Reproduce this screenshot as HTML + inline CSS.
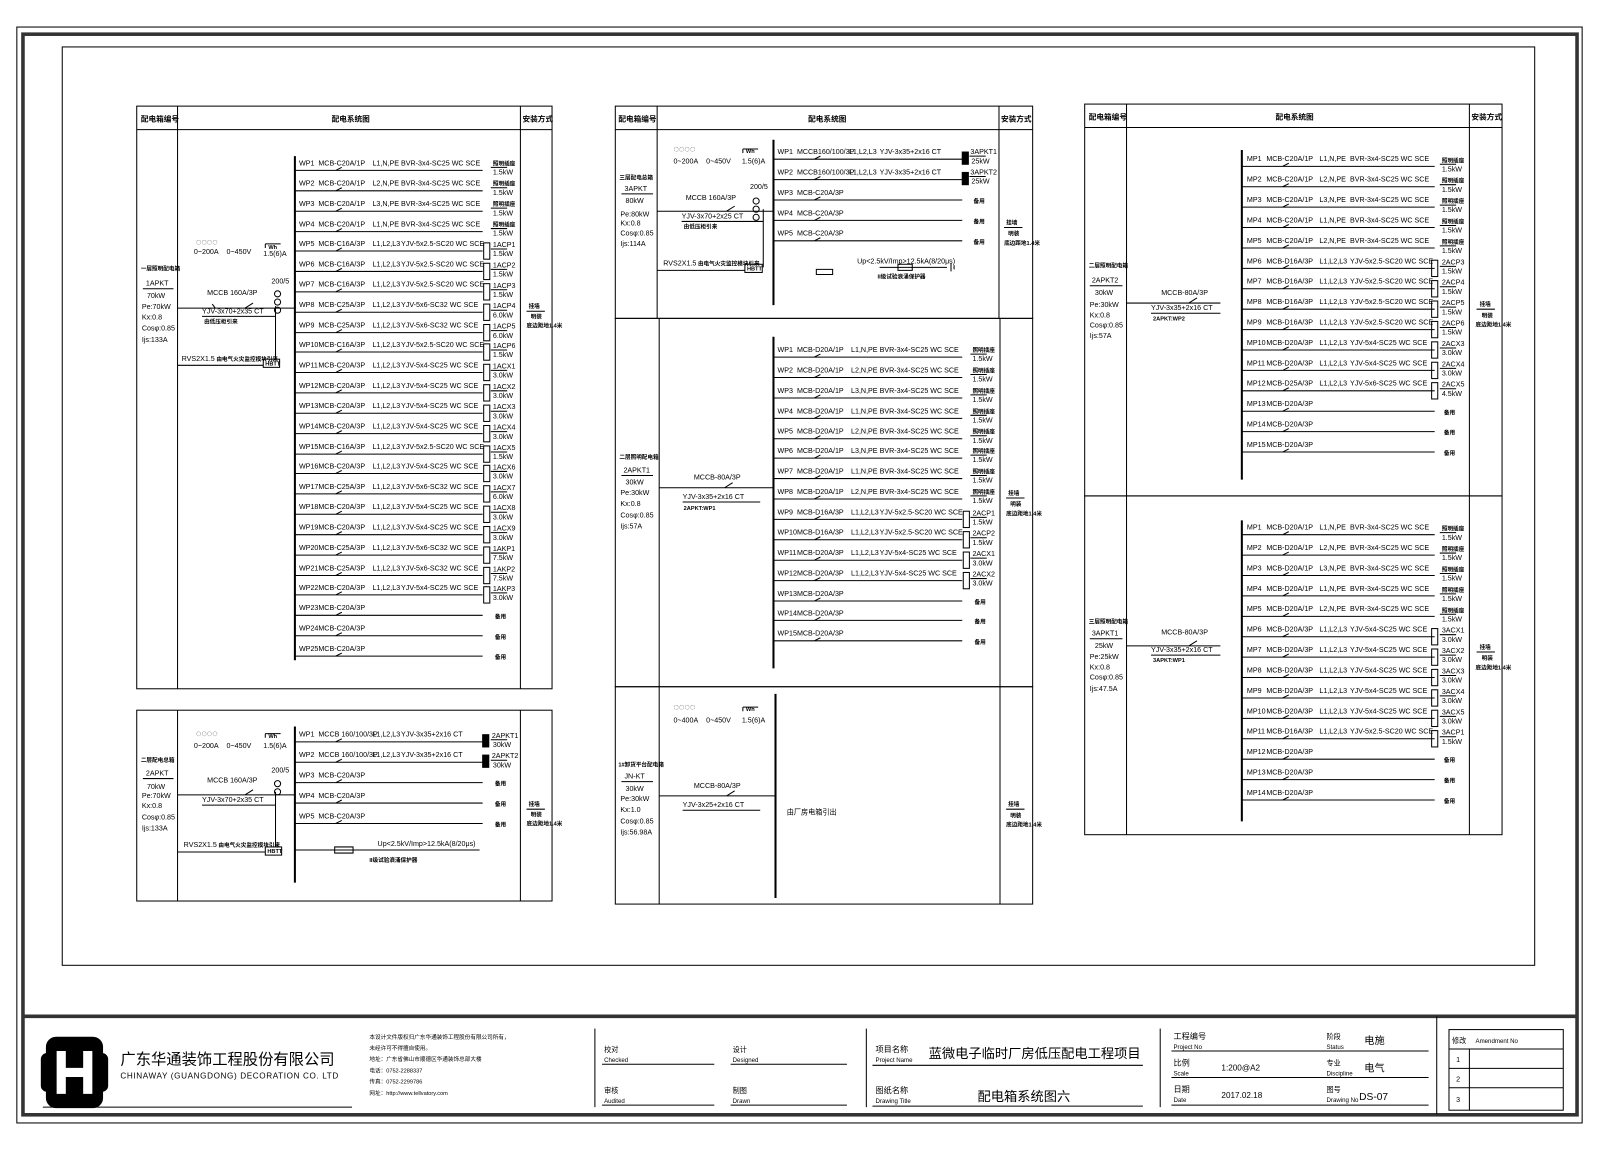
<!DOCTYPE html>
<html><head><meta charset="utf-8"><style>
html,body{margin:0;padding:0;background:#fff;}
svg{display:block}
text{font-family:"Liberation Sans","Noto Sans CJK SC",sans-serif;font-size:7px;fill:#000}
.h{font-size:7.5px;font-weight:bold}
.s{font-size:5.5px;font-weight:bold}
.b{font-size:8px}
path,line,rect,circle{stroke:#000;stroke-width:1;fill:none}
.k{stroke:#333;stroke-width:3.5}
.f{fill:#000}
</style></head><body>
<svg width="1600" height="1165" viewBox="0 0 1568 1141.7" xmlns="http://www.w3.org/2000/svg">
<rect x="0" y="0" width="1568" height="1141.7" style="fill:#fff;stroke:none"/>
<!-- frames -->
<rect x="16.5" y="26.5" width="1534" height="1074"/>
<rect class="k" x="22.5" y="33.5" width="1523" height="1059"/>
<rect x="61" y="46" width="1443" height="900"/>
<line class="k" x1="22.5" y1="996" x2="1545.5" y2="996"/>

<!-- ===== Panel 1 ===== -->
<rect x="134" y="104" width="407" height="571"/>
<line x1="134" y1="127" x2="541" y2="127"/>
<line x1="174" y1="104" x2="174" y2="675"/>
<line x1="510" y1="104" x2="510" y2="675"/>
<text class="h" x="138" y="119">配电箱编号</text>
<text class="h" x="325" y="119">配电系统图</text>
<text class="h" x="512" y="119">安装方式</text>
<line x1="289" y1="153" x2="289" y2="647" style="stroke-width:2"/>
<text class="s" x="138" y="265">一层照明配电箱</text>
<text x="143" y="280">1APKT</text><line x1="140" y1="283" x2="170" y2="283"/>
<text x="144" y="292">70kW</text>
<text x="139" y="303">Pe:70kW</text>
<text x="139" y="313">Kx:0.8</text>
<text x="139" y="324">Cosφ:0.85</text>
<text x="139" y="335">Ijs:133A</text>
<text x="192" y="240" style="font-size:9px">◌◌◌◌</text>
<text x="190" y="249">0~200A</text><text x="222" y="249">0~450V</text>
<path d="M260 239h15M260 239v4"/><text x="263" y="244" class="s">Wh</text>
<text x="258" y="251">1.5(6)A</text>
<text x="266" y="278">200/5</text>
<circle cx="272" cy="288" r="3"/><circle cx="272" cy="296" r="3"/><circle cx="272" cy="304" r="3"/>
<path d="M174 302H289M240 302l8-5M208 298l3 4"/>
<text x="203" y="289">MCCB 160A/3P</text>
<text x="198" y="307">YJV-3x70+2x35 CT</text>
<path d="M198 310H270M270 300V352"/>
<text class="s" x="200" y="317">由低压柜引来</text>
<text x="178" y="354">RVS2X1.5</text><text class="s" x="212" y="354">由电气火灾监控模块引来</text>
<path d="M174 358H258"/><rect x="258" y="352" width="16" height="8"/><text class="s" x="260" y="358">HBTT</text>
<text class="s" x="518" y="302">挂墙</text><line x1="516" y1="305" x2="534" y2="305"/>
<text class="s" x="520" y="312">明装</text><text class="s" x="516" y="321">底边距地1.4米</text>

<g transform="translate(289,162)"><text x="4">WP1</text><text x="23">MCB-C20A/1P</text><text x="76">L1,N,PE</text><text x="104">BVR-3x4-SC25 WC SCE</text><path d="M0 5H184M40 5l6-3"/><text class="s" x="194" y="0">照明插座</text><path d="M192 2h16"/><text x="194" y="9">1.5kW</text></g>
<g transform="translate(289,182)"><text x="4">WP2</text><text x="23">MCB-C20A/1P</text><text x="76">L2,N,PE</text><text x="104">BVR-3x4-SC25 WC SCE</text><path d="M0 5H184M40 5l6-3"/><text class="s" x="194" y="0">照明插座</text><path d="M192 2h16"/><text x="194" y="9">1.5kW</text></g>
<g transform="translate(289,202)"><text x="4">WP3</text><text x="23">MCB-C20A/1P</text><text x="76">L3,N,PE</text><text x="104">BVR-3x4-SC25 WC SCE</text><path d="M0 5H184M40 5l6-3"/><text class="s" x="194" y="0">照明插座</text><path d="M192 2h16"/><text x="194" y="9">1.5kW</text></g>
<g transform="translate(289,222)"><text x="4">WP4</text><text x="23">MCB-C20A/1P</text><text x="76">L1,N,PE</text><text x="104">BVR-3x4-SC25 WC SCE</text><path d="M0 5H184M40 5l6-3"/><text class="s" x="194" y="0">照明插座</text><path d="M192 2h16"/><text x="194" y="9">1.5kW</text></g>
<g transform="translate(289,241)"><text x="4">WP5</text><text x="23">MCB-C16A/3P</text><text x="76">L1,L2,L3</text><text x="104">YJV-5x2.5-SC20 WC SCE</text><path d="M0 5H184M40 5l6-3"/><rect x="185" y="-3" width="6" height="16"/><text x="194" y="1">1ACP1</text><path d="M192 3h16"/><text x="194" y="10">1.5kW</text></g>
<g transform="translate(289,261)"><text x="4">WP6</text><text x="23">MCB-C16A/3P</text><text x="76">L1,L2,L3</text><text x="104">YJV-5x2.5-SC20 WC SCE</text><path d="M0 5H184M40 5l6-3"/><rect x="185" y="-3" width="6" height="16"/><text x="194" y="1">1ACP2</text><path d="M192 3h16"/><text x="194" y="10">1.5kW</text></g>
<g transform="translate(289,281)"><text x="4">WP7</text><text x="23">MCB-C16A/3P</text><text x="76">L1,L2,L3</text><text x="104">YJV-5x2.5-SC20 WC SCE</text><path d="M0 5H184M40 5l6-3"/><rect x="185" y="-3" width="6" height="16"/><text x="194" y="1">1ACP3</text><path d="M192 3h16"/><text x="194" y="10">1.5kW</text></g>
<g transform="translate(289,301)"><text x="4">WP8</text><text x="23">MCB-C25A/3P</text><text x="76">L1,L2,L3</text><text x="104">YJV-5x6-SC32 WC SCE</text><path d="M0 5H184M40 5l6-3"/><rect x="185" y="-3" width="6" height="16"/><text x="194" y="1">1ACP4</text><path d="M192 3h16"/><text x="194" y="10">6.0kW</text></g>
<g transform="translate(289,321)"><text x="4">WP9</text><text x="23">MCB-C25A/3P</text><text x="76">L1,L2,L3</text><text x="104">YJV-5x6-SC32 WC SCE</text><path d="M0 5H184M40 5l6-3"/><rect x="185" y="-3" width="6" height="16"/><text x="194" y="1">1ACP5</text><path d="M192 3h16"/><text x="194" y="10">6.0kW</text></g>
<g transform="translate(289,340)"><text x="4">WP10</text><text x="23">MCB-C16A/3P</text><text x="76">L1,L2,L3</text><text x="104">YJV-5x2.5-SC20 WC SCE</text><path d="M0 5H184M40 5l6-3"/><rect x="185" y="-3" width="6" height="16"/><text x="194" y="1">1ACP6</text><path d="M192 3h16"/><text x="194" y="10">1.5kW</text></g>
<g transform="translate(289,360)"><text x="4">WP11</text><text x="23">MCB-C20A/3P</text><text x="76">L1,L2,L3</text><text x="104">YJV-5x4-SC25 WC SCE</text><path d="M0 5H184M40 5l6-3"/><rect x="185" y="-3" width="6" height="16"/><text x="194" y="1">1ACX1</text><path d="M192 3h16"/><text x="194" y="10">3.0kW</text></g>
<g transform="translate(289,380)"><text x="4">WP12</text><text x="23">MCB-C20A/3P</text><text x="76">L1,L2,L3</text><text x="104">YJV-5x4-SC25 WC SCE</text><path d="M0 5H184M40 5l6-3"/><rect x="185" y="-3" width="6" height="16"/><text x="194" y="1">1ACX2</text><path d="M192 3h16"/><text x="194" y="10">3.0kW</text></g>
<g transform="translate(289,400)"><text x="4">WP13</text><text x="23">MCB-C20A/3P</text><text x="76">L1,L2,L3</text><text x="104">YJV-5x4-SC25 WC SCE</text><path d="M0 5H184M40 5l6-3"/><rect x="185" y="-3" width="6" height="16"/><text x="194" y="1">1ACX3</text><path d="M192 3h16"/><text x="194" y="10">3.0kW</text></g>
<g transform="translate(289,420)"><text x="4">WP14</text><text x="23">MCB-C20A/3P</text><text x="76">L1,L2,L3</text><text x="104">YJV-5x4-SC25 WC SCE</text><path d="M0 5H184M40 5l6-3"/><rect x="185" y="-3" width="6" height="16"/><text x="194" y="1">1ACX4</text><path d="M192 3h16"/><text x="194" y="10">3.0kW</text></g>
<g transform="translate(289,440)"><text x="4">WP15</text><text x="23">MCB-C16A/3P</text><text x="76">L1,L2,L3</text><text x="104">YJV-5x2.5-SC20 WC SCE</text><path d="M0 5H184M40 5l6-3"/><rect x="185" y="-3" width="6" height="16"/><text x="194" y="1">1ACX5</text><path d="M192 3h16"/><text x="194" y="10">1.5kW</text></g>
<g transform="translate(289,459)"><text x="4">WP16</text><text x="23">MCB-C20A/3P</text><text x="76">L1,L2,L3</text><text x="104">YJV-5x4-SC25 WC SCE</text><path d="M0 5H184M40 5l6-3"/><rect x="185" y="-3" width="6" height="16"/><text x="194" y="1">1ACX6</text><path d="M192 3h16"/><text x="194" y="10">3.0kW</text></g>
<g transform="translate(289,479)"><text x="4">WP17</text><text x="23">MCB-C25A/3P</text><text x="76">L1,L2,L3</text><text x="104">YJV-5x6-SC32 WC SCE</text><path d="M0 5H184M40 5l6-3"/><rect x="185" y="-3" width="6" height="16"/><text x="194" y="1">1ACX7</text><path d="M192 3h16"/><text x="194" y="10">6.0kW</text></g>
<g transform="translate(289,499)"><text x="4">WP18</text><text x="23">MCB-C20A/3P</text><text x="76">L1,L2,L3</text><text x="104">YJV-5x4-SC25 WC SCE</text><path d="M0 5H184M40 5l6-3"/><rect x="185" y="-3" width="6" height="16"/><text x="194" y="1">1ACX8</text><path d="M192 3h16"/><text x="194" y="10">3.0kW</text></g>
<g transform="translate(289,519)"><text x="4">WP19</text><text x="23">MCB-C20A/3P</text><text x="76">L1,L2,L3</text><text x="104">YJV-5x4-SC25 WC SCE</text><path d="M0 5H184M40 5l6-3"/><rect x="185" y="-3" width="6" height="16"/><text x="194" y="1">1ACX9</text><path d="M192 3h16"/><text x="194" y="10">3.0kW</text></g>
<g transform="translate(289,539)"><text x="4">WP20</text><text x="23">MCB-C25A/3P</text><text x="76">L1,L2,L3</text><text x="104">YJV-5x6-SC32 WC SCE</text><path d="M0 5H184M40 5l6-3"/><rect x="185" y="-3" width="6" height="16"/><text x="194" y="1">1AKP1</text><path d="M192 3h16"/><text x="194" y="10">7.5kW</text></g>
<g transform="translate(289,559)"><text x="4">WP21</text><text x="23">MCB-C25A/3P</text><text x="76">L1,L2,L3</text><text x="104">YJV-5x6-SC32 WC SCE</text><path d="M0 5H184M40 5l6-3"/><rect x="185" y="-3" width="6" height="16"/><text x="194" y="1">1AKP2</text><path d="M192 3h16"/><text x="194" y="10">7.5kW</text></g>
<g transform="translate(289,578)"><text x="4">WP22</text><text x="23">MCB-C20A/3P</text><text x="76">L1,L2,L3</text><text x="104">YJV-5x4-SC25 WC SCE</text><path d="M0 5H184M40 5l6-3"/><rect x="185" y="-3" width="6" height="16"/><text x="194" y="1">1AKP3</text><path d="M192 3h16"/><text x="194" y="10">3.0kW</text></g>
<g transform="translate(289,598)"><text x="4">WP23</text><text x="23">MCB-C20A/3P</text><path d="M0 5H184M40 5l6-3"/><text class="s" x="196" y="8">备用</text></g>
<g transform="translate(289,618)"><text x="4">WP24</text><text x="23">MCB-C20A/3P</text><path d="M0 5H184M40 5l6-3"/><text class="s" x="196" y="8">备用</text></g>
<g transform="translate(289,638)"><text x="4">WP25</text><text x="23">MCB-C20A/3P</text><path d="M0 5H184M40 5l6-3"/><text class="s" x="196" y="8">备用</text></g>

<!-- ===== Panel 2 ===== -->
<rect x="134" y="696" width="407" height="187"/>
<line x1="174" y1="696" x2="174" y2="883"/>
<line x1="510" y1="696" x2="510" y2="883"/>
<line x1="289" y1="712" x2="289" y2="865" style="stroke-width:2"/>
<text class="s" x="138" y="747">二层配电总箱</text>
<text x="143" y="760">2APKT</text><line x1="140" y1="763" x2="170" y2="763"/>
<text x="144" y="773">70kW</text>
<text x="139" y="782">Pe:70kW</text>
<text x="139" y="792">Kx:0.8</text>
<text x="139" y="803">Cosφ:0.85</text>
<text x="139" y="814">Ijs:133A</text>
<text x="192" y="722" style="font-size:9px">◌◌◌◌</text>
<text x="190" y="733">0~200A</text><text x="222" y="733">0~450V</text>
<path d="M260 719h15M260 719v4"/><text x="263" y="723" class="s">Wh</text>
<text x="258" y="733">1.5(6)A</text>
<text x="266" y="757">200/5</text>
<circle cx="272" cy="768" r="3"/><circle cx="272" cy="776" r="3"/>
<path d="M174 779H289M240 779l8-5"/>
<text x="203" y="767">MCCB 160A/3P</text>
<text x="198" y="786">YJV-3x70+2x35 CT</text>
<path d="M198 789H270M270 776V830"/>
<text x="180" y="830">RVS2X1.5</text><text class="s" x="214" y="830">由电气火灾监控模块引来</text>
<path d="M174 835H260"/><rect x="260" y="830" width="16" height="8"/><text class="s" x="262" y="836">HBTT</text>
<text class="s" x="518" y="790">挂墙</text><line x1="516" y1="793" x2="534" y2="793"/>
<text class="s" x="520" y="800">明装</text><text class="s" x="516" y="809">底边距地1.4米</text>
<g transform="translate(289,722)"><text x="4">WP1</text><text x="23">MCCB 160/100/3P</text><text x="76">L1,L2,L3</text><text x="104">YJV-3x35+2x16 CT</text><path d="M0 5H184M40 5l6-3"/><rect class="f" x="184" y="-2" width="6" height="12"/><text x="193" y="1">2APKT1</text><path d="M192 3h16"/><text x="194" y="10">30kW</text></g>
<g transform="translate(289,742)"><text x="4">WP2</text><text x="23">MCCB 160/100/3P</text><text x="76">L1,L2,L3</text><text x="104">YJV-3x35+2x16 CT</text><path d="M0 5H184M40 5l6-3"/><rect class="f" x="184" y="-2" width="6" height="12"/><text x="193" y="1">2APKT2</text><path d="M192 3h16"/><text x="194" y="10">30kW</text></g>
<g transform="translate(289,762)"><text x="4">WP3</text><text x="23">MCB-C20A/3P</text><path d="M0 5H184M40 5l6-3"/><text class="s" x="196" y="8">备用</text></g>
<g transform="translate(289,782)"><text x="4">WP4</text><text x="23">MCB-C20A/3P</text><path d="M0 5H184M40 5l6-3"/><text class="s" x="196" y="8">备用</text></g>
<g transform="translate(289,802)"><text x="4">WP5</text><text x="23">MCB-C20A/3P</text><path d="M0 5H184M40 5l6-3"/><text class="s" x="196" y="8">备用</text></g>
<path d="M289 833H470M328 830h18v6h-18z"/>
<text x="370" y="829">Up&lt;2.5kV/Imp&gt;12.5kA(8/20μs)</text>
<text class="s" x="362" y="845">II级试验浪涌保护器</text>

<!-- ===== Panel 3 ===== -->
<rect x="603" y="104" width="409" height="208"/>
<line x1="603" y1="127" x2="1012" y2="127"/>
<line x1="644" y1="104" x2="644" y2="312"/>
<line x1="979" y1="104" x2="979" y2="312"/>
<text class="h" x="606" y="119">配电箱编号</text>
<text class="h" x="792" y="119">配电系统图</text>
<text class="h" x="981" y="119">安装方式</text>
<line x1="758" y1="137" x2="758" y2="299" style="stroke-width:2"/>
<text class="s" x="607" y="176">三层配电总箱</text>
<text x="612" y="187">3APKT</text><line x1="609" y1="190" x2="640" y2="190"/>
<text x="613" y="199">80kW</text>
<text x="608" y="212">Pe:80kW</text>
<text x="608" y="221">Kx:0.8</text>
<text x="608" y="231">Cosφ:0.85</text>
<text x="608" y="241">Ijs:114A</text>
<text x="660" y="149" style="font-size:9px">◌◌◌◌</text>
<text x="660" y="160">0~200A</text><text x="692" y="160">0~450V</text>
<path d="M728 146h15M728 146v4"/><text x="731" y="150" class="s">Wh</text>
<text x="727" y="160">1.5(6)A</text>
<text x="735" y="185">200/5</text>
<circle cx="741" cy="197" r="3"/><circle cx="741" cy="205" r="3"/><circle cx="741" cy="213" r="3"/>
<path d="M644 207H758M712 207l8-5"/>
<text x="672" y="196">MCCB 160A/3P</text>
<text x="668" y="214">YJV-3x70+2x25 CT</text>
<path d="M668 217H748M748 205V262"/>
<text class="s" x="670" y="224">由低压柜引来</text>
<text x="650" y="260">RVS2X1.5</text><text class="s" x="684" y="260">由电气火灾监控模块引来</text>
<path d="M644 265H730"/><rect x="730" y="259" width="17" height="8"/><text class="s" x="732" y="265">HBTT</text>
<text class="s" x="986" y="220">挂墙</text><line x1="984" y1="223" x2="1002" y2="223"/>
<text class="s" x="988" y="231">明装</text><text class="s" x="984" y="240">底边距地1.4米</text>
<g transform="translate(758,151)"><text x="4">WP1</text><text x="23">MCCB160/100/3P</text><text x="74">L1,L2,L3</text><text x="104">YJV-3x35+2x16 CT</text><path d="M0 5H185M40 5l6-3"/><rect class="f" x="185" y="-2" width="6" height="12"/><text x="193" y="0">3APKT1</text><path d="M192 2h16"/><text x="194" y="9">25kW</text></g>
<g transform="translate(758,171)"><text x="4">WP2</text><text x="23">MCCB160/100/3P</text><text x="74">L1,L2,L3</text><text x="104">YJV-3x35+2x16 CT</text><path d="M0 5H185M40 5l6-3"/><rect class="f" x="185" y="-2" width="6" height="12"/><text x="193" y="0">3APKT2</text><path d="M192 2h16"/><text x="194" y="9">25kW</text></g>
<g transform="translate(758,191)"><text x="4">WP3</text><text x="23">MCB-C20A/3P</text><path d="M0 5H185M40 5l6-3"/><text class="s" x="196" y="8">备用</text></g>
<g transform="translate(758,211)"><text x="4">WP4</text><text x="23">MCB-C20A/3P</text><path d="M0 5H185M40 5l6-3"/><text class="s" x="196" y="8">备用</text></g>
<g transform="translate(758,231)"><text x="4">WP5</text><text x="23">MCB-C20A/3P</text><path d="M0 5H185M40 5l6-3"/><text class="s" x="196" y="8">备用</text></g>
<path d="M800 264h16v5h-16z"/>
<text x="840" y="258">Up&lt;2.5kV/Imp&gt;12.5kA(8/20μs)</text>
<path d="M862 262H928M880 259h14v6h-14zM932 258v8M935 260v4"/>
<text class="s" x="860" y="273">II级试验浪涌保护器</text>

<!-- ===== Panel 4 ===== -->
<rect x="603" y="312" width="409" height="361"/>
<line x1="646" y1="312" x2="646" y2="673"/>
<line x1="980" y1="312" x2="980" y2="673"/>
<line x1="758" y1="330" x2="758" y2="655" style="stroke-width:2"/>
<text class="s" x="607" y="450">二层照明配电箱</text>
<text x="611" y="463">2APKT1</text><line x1="609" y1="466" x2="640" y2="466"/>
<text x="613" y="475">30kW</text>
<text x="608" y="485">Pe:30kW</text>
<text x="608" y="496">Kx:0.8</text>
<text x="608" y="507">Cosφ:0.85</text>
<text x="608" y="518">Ijs:57A</text>
<path d="M646 478H758M710 478l8-5"/>
<text x="680" y="470">MCCB-80A/3P</text>
<text x="669" y="489">YJV-3x35+2x16 CT</text>
<path d="M669 492H745"/>
<text class="s" x="670" y="500">2APKT:WP1</text>
<text class="s" x="988" y="485">挂墙</text><line x1="986" y1="488" x2="1004" y2="488"/>
<text class="s" x="990" y="496">明装</text><text class="s" x="986" y="505">底边距地1.4米</text>
<g transform="translate(758,345)"><text x="4">WP1</text><text x="23">MCB-D20A/1P</text><text x="76">L1,N,PE</text><text x="104">BVR-3x4-SC25 WC SCE</text><path d="M0 5H185M40 5l6-3"/><text class="s" x="195" y="0">照明插座</text><path d="M193 2h16"/><text x="195" y="9">1.5kW</text></g>
<g transform="translate(758,365)"><text x="4">WP2</text><text x="23">MCB-D20A/1P</text><text x="76">L2,N,PE</text><text x="104">BVR-3x4-SC25 WC SCE</text><path d="M0 5H185M40 5l6-3"/><text class="s" x="195" y="0">照明插座</text><path d="M193 2h16"/><text x="195" y="9">1.5kW</text></g>
<g transform="translate(758,385)"><text x="4">WP3</text><text x="23">MCB-D20A/1P</text><text x="76">L3,N,PE</text><text x="104">BVR-3x4-SC25 WC SCE</text><path d="M0 5H185M40 5l6-3"/><text class="s" x="195" y="0">照明插座</text><path d="M193 2h16"/><text x="195" y="9">1.5kW</text></g>
<g transform="translate(758,405)"><text x="4">WP4</text><text x="23">MCB-D20A/1P</text><text x="76">L1,N,PE</text><text x="104">BVR-3x4-SC25 WC SCE</text><path d="M0 5H185M40 5l6-3"/><text class="s" x="195" y="0">照明插座</text><path d="M193 2h16"/><text x="195" y="9">1.5kW</text></g>
<g transform="translate(758,425)"><text x="4">WP5</text><text x="23">MCB-D20A/1P</text><text x="76">L2,N,PE</text><text x="104">BVR-3x4-SC25 WC SCE</text><path d="M0 5H185M40 5l6-3"/><text class="s" x="195" y="0">照明插座</text><path d="M193 2h16"/><text x="195" y="9">1.5kW</text></g>
<g transform="translate(758,444)"><text x="4">WP6</text><text x="23">MCB-D20A/1P</text><text x="76">L3,N,PE</text><text x="104">BVR-3x4-SC25 WC SCE</text><path d="M0 5H185M40 5l6-3"/><text class="s" x="195" y="0">照明插座</text><path d="M193 2h16"/><text x="195" y="9">1.5kW</text></g>
<g transform="translate(758,464)"><text x="4">WP7</text><text x="23">MCB-D20A/1P</text><text x="76">L1,N,PE</text><text x="104">BVR-3x4-SC25 WC SCE</text><path d="M0 5H185M40 5l6-3"/><text class="s" x="195" y="0">照明插座</text><path d="M193 2h16"/><text x="195" y="9">1.5kW</text></g>
<g transform="translate(758,484)"><text x="4">WP8</text><text x="23">MCB-D20A/1P</text><text x="76">L2,N,PE</text><text x="104">BVR-3x4-SC25 WC SCE</text><path d="M0 5H185M40 5l6-3"/><text class="s" x="195" y="0">照明插座</text><path d="M193 2h16"/><text x="195" y="9">1.5kW</text></g>
<g transform="translate(758,504)"><text x="4">WP9</text><text x="23">MCB-D16A/3P</text><text x="76">L1,L2,L3</text><text x="104">YJV-5x2.5-SC20 WC SCE</text><path d="M0 5H185M40 5l6-3"/><rect x="186" y="-3" width="6" height="16"/><text x="195" y="1">2ACP1</text><path d="M193 3h16"/><text x="195" y="10">1.5kW</text></g>
<g transform="translate(758,524)"><text x="4">WP10</text><text x="23">MCB-D16A/3P</text><text x="76">L1,L2,L3</text><text x="104">YJV-5x2.5-SC20 WC SCE</text><path d="M0 5H185M40 5l6-3"/><rect x="186" y="-3" width="6" height="16"/><text x="195" y="1">2ACP2</text><path d="M193 3h16"/><text x="195" y="10">1.5kW</text></g>
<g transform="translate(758,544)"><text x="4">WP11</text><text x="23">MCB-D20A/3P</text><text x="76">L1,L2,L3</text><text x="104">YJV-5x4-SC25 WC SCE</text><path d="M0 5H185M40 5l6-3"/><rect x="186" y="-3" width="6" height="16"/><text x="195" y="1">2ACX1</text><path d="M193 3h16"/><text x="195" y="10">3.0kW</text></g>
<g transform="translate(758,564)"><text x="4">WP12</text><text x="23">MCB-D20A/3P</text><text x="76">L1,L2,L3</text><text x="104">YJV-5x4-SC25 WC SCE</text><path d="M0 5H185M40 5l6-3"/><rect x="186" y="-3" width="6" height="16"/><text x="195" y="1">2ACX2</text><path d="M193 3h16"/><text x="195" y="10">3.0kW</text></g>
<g transform="translate(758,584)"><text x="4">WP13</text><text x="23">MCB-D20A/3P</text><path d="M0 5H185M40 5l6-3"/><text class="s" x="197" y="8">备用</text></g>
<g transform="translate(758,603)"><text x="4">WP14</text><text x="23">MCB-D20A/3P</text><path d="M0 5H185M40 5l6-3"/><text class="s" x="197" y="8">备用</text></g>
<g transform="translate(758,623)"><text x="4">WP15</text><text x="23">MCB-D20A/3P</text><path d="M0 5H185M40 5l6-3"/><text class="s" x="197" y="8">备用</text></g>

<!-- ===== Panel 5 ===== -->
<rect x="603" y="673" width="409" height="213"/>
<line x1="646" y1="673" x2="646" y2="886"/>
<line x1="980" y1="673" x2="980" y2="886"/>
<line x1="760" y1="680" x2="760" y2="880" style="stroke-width:2"/>
<text class="s" x="606" y="751">1#卸货平台配电箱</text>
<text x="612" y="763">JN-KT</text><line x1="609" y1="766" x2="640" y2="766"/>
<text x="613" y="775">30kW</text>
<text x="608" y="785">Pe:30kW</text>
<text x="608" y="796">Kx:1.0</text>
<text x="608" y="807">Cosφ:0.85</text>
<text x="608" y="818">Ijs:56.98A</text>
<text x="660" y="696" style="font-size:9px">◌◌◌◌</text>
<text x="660" y="708">0~400A</text><text x="692" y="708">0~450V</text>
<path d="M728 693h15M728 693v4"/><text x="731" y="697" class="s">Wh</text>
<text x="727" y="708">1.5(6)A</text>
<path d="M646 780H760M712 780l8-5"/>
<text x="680" y="772">MCCB-80A/3P</text>
<text x="669" y="791">YJV-3x25+2x16 CT</text>
<path d="M669 794H745"/>
<text x="771" y="798">由厂房电箱引出</text>
<text class="s" x="988" y="790">挂墙</text><line x1="986" y1="793" x2="1004" y2="793"/>
<text class="s" x="990" y="801">明装</text><text class="s" x="986" y="810">底边距地1.4米</text>

<!-- ===== Panel 6 ===== -->
<rect x="1063" y="102" width="409" height="384"/>
<line x1="1063" y1="125" x2="1472" y2="125"/>
<line x1="1104" y1="102" x2="1104" y2="486"/>
<line x1="1440" y1="102" x2="1440" y2="486"/>
<text class="h" x="1067" y="117">配电箱编号</text>
<text class="h" x="1250" y="117">配电系统图</text>
<text class="h" x="1442" y="117">安装方式</text>
<line x1="1217" y1="147" x2="1217" y2="470" style="stroke-width:2"/>
<text class="s" x="1067" y="262">二层照明配电箱</text>
<text x="1070" y="277">2APKT2</text><line x1="1068" y1="280" x2="1100" y2="280"/>
<text x="1073" y="289">30kW</text>
<text x="1068" y="301">Pe:30kW</text>
<text x="1068" y="311">Kx:0.8</text>
<text x="1068" y="321">Cosφ:0.85</text>
<text x="1068" y="331">Ijs:57A</text>
<path d="M1104 297H1196M1165 297l8-5"/>
<text x="1138" y="289">MCCB-80A/3P</text>
<text x="1128" y="304">YJV-3x35+2x16 CT</text>
<path d="M1128 307H1196"/>
<text class="s" x="1130" y="314">2APKT:WP2</text>
<text class="s" x="1450" y="300">挂墙</text><line x1="1447" y1="303" x2="1465" y2="303"/>
<text class="s" x="1452" y="311">明装</text><text class="s" x="1446" y="320">底边距地1.4米</text>
<g transform="translate(1217,158)"><text x="5">MP1</text><text x="24">MCB-C20A/1P</text><text x="76">L1,N,PE</text><text x="106">BVR-3x4-SC25 WC SCE</text><path d="M0 5H189M40 5l6-3"/><text class="s" x="196" y="1">照明插座</text><path d="M194 3h16"/><text x="196" y="10">1.5kW</text></g>
<g transform="translate(1217,178)"><text x="5">MP2</text><text x="24">MCB-C20A/1P</text><text x="76">L2,N,PE</text><text x="106">BVR-3x4-SC25 WC SCE</text><path d="M0 5H189M40 5l6-3"/><text class="s" x="196" y="1">照明插座</text><path d="M194 3h16"/><text x="196" y="10">1.5kW</text></g>
<g transform="translate(1217,198)"><text x="5">MP3</text><text x="24">MCB-C20A/1P</text><text x="76">L3,N,PE</text><text x="106">BVR-3x4-SC25 WC SCE</text><path d="M0 5H189M40 5l6-3"/><text class="s" x="196" y="1">照明插座</text><path d="M194 3h16"/><text x="196" y="10">1.5kW</text></g>
<g transform="translate(1217,218)"><text x="5">MP4</text><text x="24">MCB-C20A/1P</text><text x="76">L1,N,PE</text><text x="106">BVR-3x4-SC25 WC SCE</text><path d="M0 5H189M40 5l6-3"/><text class="s" x="196" y="1">照明插座</text><path d="M194 3h16"/><text x="196" y="10">1.5kW</text></g>
<g transform="translate(1217,238)"><text x="5">MP5</text><text x="24">MCB-C20A/1P</text><text x="76">L2,N,PE</text><text x="106">BVR-3x4-SC25 WC SCE</text><path d="M0 5H189M40 5l6-3"/><text class="s" x="196" y="1">照明插座</text><path d="M194 3h16"/><text x="196" y="10">1.5kW</text></g>
<g transform="translate(1217,258)"><text x="5">MP6</text><text x="24">MCB-D16A/3P</text><text x="76">L1,L2,L3</text><text x="106">YJV-5x2.5-SC20 WC SCE</text><path d="M0 5H189M40 5l6-3"/><rect x="186" y="-3" width="6" height="16"/><text x="196" y="1">2ACP3</text><path d="M194 3h16"/><text x="196" y="10">1.5kW</text></g>
<g transform="translate(1217,278)"><text x="5">MP7</text><text x="24">MCB-D16A/3P</text><text x="76">L1,L2,L3</text><text x="106">YJV-5x2.5-SC20 WC SCE</text><path d="M0 5H189M40 5l6-3"/><rect x="186" y="-3" width="6" height="16"/><text x="196" y="1">2ACP4</text><path d="M194 3h16"/><text x="196" y="10">1.5kW</text></g>
<g transform="translate(1217,298)"><text x="5">MP8</text><text x="24">MCB-D16A/3P</text><text x="76">L1,L2,L3</text><text x="106">YJV-5x2.5-SC20 WC SCE</text><path d="M0 5H189M40 5l6-3"/><rect x="186" y="-3" width="6" height="16"/><text x="196" y="1">2ACP5</text><path d="M194 3h16"/><text x="196" y="10">1.5kW</text></g>
<g transform="translate(1217,318)"><text x="5">MP9</text><text x="24">MCB-D16A/3P</text><text x="76">L1,L2,L3</text><text x="106">YJV-5x2.5-SC20 WC SCE</text><path d="M0 5H189M40 5l6-3"/><rect x="186" y="-3" width="6" height="16"/><text x="196" y="1">2ACP6</text><path d="M194 3h16"/><text x="196" y="10">1.5kW</text></g>
<g transform="translate(1217,338)"><text x="5">MP10</text><text x="24">MCB-D20A/3P</text><text x="76">L1,L2,L3</text><text x="106">YJV-5x4-SC25 WC SCE</text><path d="M0 5H189M40 5l6-3"/><rect x="186" y="-3" width="6" height="16"/><text x="196" y="1">2ACX3</text><path d="M194 3h16"/><text x="196" y="10">3.0kW</text></g>
<g transform="translate(1217,358)"><text x="5">MP11</text><text x="24">MCB-D20A/3P</text><text x="76">L1,L2,L3</text><text x="106">YJV-5x4-SC25 WC SCE</text><path d="M0 5H189M40 5l6-3"/><rect x="186" y="-3" width="6" height="16"/><text x="196" y="1">2ACX4</text><path d="M194 3h16"/><text x="196" y="10">3.0kW</text></g>
<g transform="translate(1217,378)"><text x="5">MP12</text><text x="24">MCB-D25A/3P</text><text x="76">L1,L2,L3</text><text x="106">YJV-5x6-SC25 WC SCE</text><path d="M0 5H189M40 5l6-3"/><rect x="186" y="-3" width="6" height="16"/><text x="196" y="1">2ACX5</text><path d="M194 3h16"/><text x="196" y="10">4.5kW</text></g>
<g transform="translate(1217,398)"><text x="5">MP13</text><text x="24">MCB-D20A/3P</text><path d="M0 5H189M40 5l6-3"/><text class="s" x="198" y="8">备用</text></g>
<g transform="translate(1217,418)"><text x="5">MP14</text><text x="24">MCB-D20A/3P</text><path d="M0 5H189M40 5l6-3"/><text class="s" x="198" y="8">备用</text></g>
<g transform="translate(1217,438)"><text x="5">MP15</text><text x="24">MCB-D20A/3P</text><path d="M0 5H189M40 5l6-3"/><text class="s" x="198" y="8">备用</text></g>

<!-- ===== Panel 7 ===== -->
<rect x="1063" y="486" width="409" height="332"/>
<line x1="1104" y1="486" x2="1104" y2="818"/>
<line x1="1440" y1="486" x2="1440" y2="818"/>
<line x1="1217" y1="510" x2="1217" y2="805" style="stroke-width:2"/>
<text class="s" x="1067" y="611">三层照明配电箱</text>
<text x="1070" y="623">3APKT1</text><line x1="1068" y1="626" x2="1100" y2="626"/>
<text x="1073" y="635">25kW</text>
<text x="1068" y="646">Pe:25kW</text>
<text x="1068" y="656">Kx:0.8</text>
<text x="1068" y="666">Cosφ:0.85</text>
<text x="1068" y="677">Ijs:47.5A</text>
<path d="M1104 633H1196M1165 633l8-5"/>
<text x="1138" y="622">MCCB-80A/3P</text>
<text x="1128" y="639">YJV-3x35+2x16 CT</text>
<path d="M1128 642H1196"/>
<text class="s" x="1130" y="649">3APKT:WP1</text>
<text class="s" x="1450" y="636">挂墙</text><line x1="1447" y1="639" x2="1465" y2="639"/>
<text class="s" x="1452" y="647">明装</text><text class="s" x="1446" y="656">底边距地1.4米</text>
<g transform="translate(1217,519)"><text x="5">MP1</text><text x="24">MCB-D20A/1P</text><text x="76">L1,N,PE</text><text x="106">BVR-3x4-SC25 WC SCE</text><path d="M0 5H189M40 5l6-3"/><text class="s" x="196" y="1">照明插座</text><path d="M194 3h16"/><text x="196" y="10">1.5kW</text></g>
<g transform="translate(1217,539)"><text x="5">MP2</text><text x="24">MCB-D20A/1P</text><text x="76">L2,N,PE</text><text x="106">BVR-3x4-SC25 WC SCE</text><path d="M0 5H189M40 5l6-3"/><text class="s" x="196" y="1">照明插座</text><path d="M194 3h16"/><text x="196" y="10">1.5kW</text></g>
<g transform="translate(1217,559)"><text x="5">MP3</text><text x="24">MCB-D20A/1P</text><text x="76">L3,N,PE</text><text x="106">BVR-3x4-SC25 WC SCE</text><path d="M0 5H189M40 5l6-3"/><text class="s" x="196" y="1">照明插座</text><path d="M194 3h16"/><text x="196" y="10">1.5kW</text></g>
<g transform="translate(1217,579)"><text x="5">MP4</text><text x="24">MCB-D20A/1P</text><text x="76">L1,N,PE</text><text x="106">BVR-3x4-SC25 WC SCE</text><path d="M0 5H189M40 5l6-3"/><text class="s" x="196" y="1">照明插座</text><path d="M194 3h16"/><text x="196" y="10">1.5kW</text></g>
<g transform="translate(1217,599)"><text x="5">MP5</text><text x="24">MCB-D20A/1P</text><text x="76">L2,N,PE</text><text x="106">BVR-3x4-SC25 WC SCE</text><path d="M0 5H189M40 5l6-3"/><text class="s" x="196" y="1">照明插座</text><path d="M194 3h16"/><text x="196" y="10">1.5kW</text></g>
<g transform="translate(1217,619)"><text x="5">MP6</text><text x="24">MCB-D20A/3P</text><text x="76">L1,L2,L3</text><text x="106">YJV-5x4-SC25 WC SCE</text><path d="M0 5H189M40 5l6-3"/><rect x="186" y="-3" width="6" height="16"/><text x="196" y="1">3ACX1</text><path d="M194 3h16"/><text x="196" y="10">3.0kW</text></g>
<g transform="translate(1217,639)"><text x="5">MP7</text><text x="24">MCB-D20A/3P</text><text x="76">L1,L2,L3</text><text x="106">YJV-5x4-SC25 WC SCE</text><path d="M0 5H189M40 5l6-3"/><rect x="186" y="-3" width="6" height="16"/><text x="196" y="1">3ACX2</text><path d="M194 3h16"/><text x="196" y="10">3.0kW</text></g>
<g transform="translate(1217,659)"><text x="5">MP8</text><text x="24">MCB-D20A/3P</text><text x="76">L1,L2,L3</text><text x="106">YJV-5x4-SC25 WC SCE</text><path d="M0 5H189M40 5l6-3"/><rect x="186" y="-3" width="6" height="16"/><text x="196" y="1">3ACX3</text><path d="M194 3h16"/><text x="196" y="10">3.0kW</text></g>
<g transform="translate(1217,679)"><text x="5">MP9</text><text x="24">MCB-D20A/3P</text><text x="76">L1,L2,L3</text><text x="106">YJV-5x4-SC25 WC SCE</text><path d="M0 5H189M40 5l6-3"/><rect x="186" y="-3" width="6" height="16"/><text x="196" y="1">3ACX4</text><path d="M194 3h16"/><text x="196" y="10">3.0kW</text></g>
<g transform="translate(1217,699)"><text x="5">MP10</text><text x="24">MCB-D20A/3P</text><text x="76">L1,L2,L3</text><text x="106">YJV-5x4-SC25 WC SCE</text><path d="M0 5H189M40 5l6-3"/><rect x="186" y="-3" width="6" height="16"/><text x="196" y="1">3ACX5</text><path d="M194 3h16"/><text x="196" y="10">3.0kW</text></g>
<g transform="translate(1217,719)"><text x="5">MP11</text><text x="24">MCB-D16A/3P</text><text x="76">L1,L2,L3</text><text x="106">YJV-5x2.5-SC20 WC SCE</text><path d="M0 5H189M40 5l6-3"/><rect x="186" y="-3" width="6" height="16"/><text x="196" y="1">3ACP1</text><path d="M194 3h16"/><text x="196" y="10">1.5kW</text></g>
<g transform="translate(1217,739)"><text x="5">MP12</text><text x="24">MCB-D20A/3P</text><path d="M0 5H189M40 5l6-3"/><text class="s" x="198" y="8">备用</text></g>
<g transform="translate(1217,759)"><text x="5">MP13</text><text x="24">MCB-D20A/3P</text><path d="M0 5H189M40 5l6-3"/><text class="s" x="198" y="8">备用</text></g>
<g transform="translate(1217,779)"><text x="5">MP14</text><text x="24">MCB-D20A/3P</text><path d="M0 5H189M40 5l6-3"/><text class="s" x="198" y="8">备用</text></g>

<!-- ===== Title block ===== -->
<rect class="f" x="45" y="1016" width="56" height="70" rx="10" style="stroke:none"/>
<rect class="f" x="40" y="1032" width="66" height="38" rx="6" style="stroke:none"/>
<path d="M60 1030v42M86 1030v42M60 1051h26" style="stroke:#fff;stroke-width:9"/>
<text x="118" y="1043" style="font-size:15px">广东华通装饰工程股份有限公司</text>
<text x="118" y="1057" style="font-size:8px;letter-spacing:0.6px">CHINAWAY (GUANGDONG) DECORATION CO. LTD</text>
<line x1="42" y1="1085" x2="345" y2="1085"/>
<text x="362" y="1018" style="font-size:5.5px">本设计文件版权归广东华通装饰工程股份有限公司所有，</text>
<text x="362" y="1029" style="font-size:5.5px">未经许可不得擅自使用。</text>
<text x="362" y="1040" style="font-size:5.5px">地址：广东省佛山市顺德区华通装饰总部大楼</text>
<text x="362" y="1051" style="font-size:5.5px">电话：0752-2288337</text>
<text x="362" y="1062" style="font-size:5.5px">传真：0752-2299786</text>
<text x="362" y="1073" style="font-size:5.5px">网址：http://www.tellvatory.com</text>
<line x1="583" y1="1008" x2="583" y2="1085"/>
<text x="592" y="1031" style="font-size:7px">校对</text><text x="592" y="1041" style="font-size:6px">Checked</text>
<line x1="590" y1="1043" x2="700" y2="1043"/>
<text x="718" y="1031" style="font-size:7px">设计</text><text x="718" y="1041" style="font-size:6px">Designed</text>
<line x1="716" y1="1043" x2="830" y2="1043"/>
<text x="592" y="1071" style="font-size:7px">审核</text><text x="592" y="1081" style="font-size:6px">Audited</text>
<line x1="590" y1="1083" x2="700" y2="1083"/>
<text x="718" y="1071" style="font-size:7px">制图</text><text x="718" y="1081" style="font-size:6px">Drawn</text>
<line x1="716" y1="1083" x2="830" y2="1083"/>
<line x1="849" y1="1008" x2="849" y2="1085"/>
<text x="858" y="1031" style="font-size:8px">项目名称</text><text x="858" y="1041" style="font-size:6px">Project Name</text>
<text x="910" y="1037" style="font-size:13px">蓝微电子临时厂房低压配电工程项目</text>
<line x1="855" y1="1044" x2="1120" y2="1044"/>
<text x="858" y="1071" style="font-size:8px">图纸名称</text><text x="858" y="1081" style="font-size:6px">Drawing Title</text>
<text x="958" y="1079" style="font-size:13px">配电箱系统图六</text>
<line x1="855" y1="1084" x2="1120" y2="1084"/>
<line x1="1137" y1="1008" x2="1137" y2="1085"/>
<text x="1150" y="1018" style="font-size:8px">工程编号</text><text x="1150" y="1028" style="font-size:6px">Project No</text>
<text x="1300" y="1018" style="font-size:7px">阶段</text><text x="1300" y="1028" style="font-size:6px">Status</text>
<text x="1337" y="1023" style="font-size:10px">电施</text>
<line x1="1148" y1="1030" x2="1400" y2="1030"/>
<text x="1150" y="1044" style="font-size:8px">比例</text><text x="1150" y="1054" style="font-size:6px">Scale</text>
<text x="1197" y="1049" style="font-size:8px">1:200@A2</text>
<text x="1300" y="1044" style="font-size:7px">专业</text><text x="1300" y="1054" style="font-size:6px">Discipline</text>
<text x="1337" y="1050" style="font-size:10px">电气</text>
<line x1="1148" y1="1056" x2="1400" y2="1056"/>
<text x="1150" y="1070" style="font-size:8px">日期</text><text x="1150" y="1080" style="font-size:6px">Date</text>
<text x="1197" y="1076" style="font-size:8px">2017.02.18</text>
<text x="1300" y="1070" style="font-size:7px">图号</text><text x="1300" y="1080" style="font-size:6px">Drawing No</text>
<text x="1332" y="1078" style="font-size:10px">DS-07</text>
<line x1="1148" y1="1083" x2="1400" y2="1083"/>
<line x1="1408" y1="996" x2="1408" y2="1092"/>
<rect x="1420" y="1009" width="112" height="79"/>
<line x1="1420" y1="1028" x2="1532" y2="1028"/>
<line x1="1420" y1="1047" x2="1532" y2="1047"/>
<line x1="1420" y1="1066" x2="1532" y2="1066"/>
<line x1="1440" y1="1028" x2="1440" y2="1088"/>
<text x="1423" y="1022" style="font-size:7px">修改</text><text x="1446" y="1022" style="font-size:6px">Amendment No</text>
<text x="1427" y="1041">1</text><text x="1427" y="1060">2</text><text x="1427" y="1080">3</text>
</svg>
</body></html>
